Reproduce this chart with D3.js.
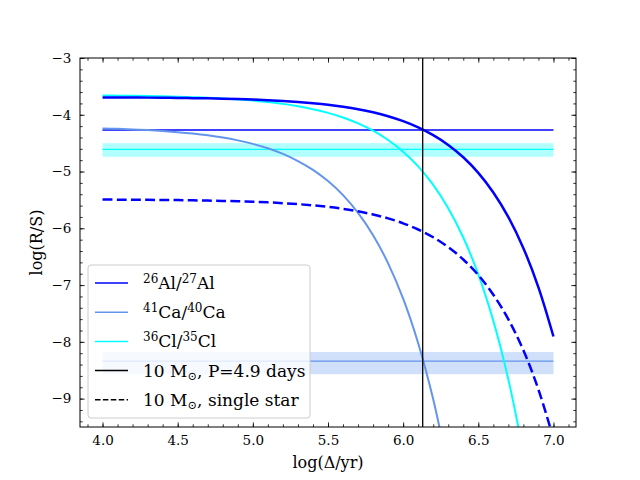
<!DOCTYPE html>
<html>
<head>
<meta charset="utf-8">
<script src="https://cdn.jsdelivr.net/npm/d3@7"></script>
<style>
  body { margin: 0; background: #fff; }
  text { font-family: "DejaVu Serif", serif; fill: #000; }
</style>
</head>
<body>
<svg id="chart" width="640" height="480"></svg>
<script>
var svg = d3.select('#chart');
const W = +svg.attr('width');
const H = +svg.attr('height');

// sample points along log(delta/yr)
const logDelta = [4.0, 4.1, 4.2, 4.3, 4.4, 4.5, 4.6, 4.7, 4.8, 4.9,
                  5.0, 5.1, 5.2, 5.3, 5.4, 5.5, 5.6, 5.7, 5.8, 5.9,
                  6.0, 6.1, 6.2, 6.3, 6.4, 6.5, 6.6, 6.7, 6.8, 6.9, 7.0];

// 26Al/27Al, binary 10 Msun
const alBinary = [-3.694, -3.695, -3.697, -3.698, -3.701, -3.703, -3.707, -3.711, -3.717, -3.724,
                  -3.732, -3.743, -3.757, -3.774, -3.796, -3.823, -3.858, -3.901, -3.956, -4.025,
                  -4.112, -4.221, -4.358, -4.531, -4.749, -5.023, -5.369, -5.803, -6.350, -7.039, -7.906];
// 26Al/27Al, single star
const alSingle = [-5.494, -5.495, -5.497, -5.498, -5.501, -5.503, -5.507, -5.511, -5.517, -5.524,
                  -5.532, -5.543, -5.557, -5.574, -5.596, -5.623, -5.658, -5.701, -5.756, -5.825,
                  -5.912, -6.021, -6.158, -6.331, -6.549, -6.823, -7.169, -7.603, -8.150, -8.839, -9.706];
// 41Ca/40Ca (runs off the bottom)
const caBinary = [-4.240, -4.248, -4.258, -4.270, -4.286, -4.306, -4.331, -4.362, -4.401, -4.451,
                  -4.513, -4.591, -4.690, -4.815, -4.971, -5.168, -5.416, -5.729, -6.122, -6.617,
                  -7.240, -8.025, -9.013, -10.256];
// 36Cl/35Cl (runs off the bottom)
const clBinary = [-3.660, -3.663, -3.666, -3.670, -3.675, -3.682, -3.690, -3.700, -3.713, -3.729,
                  -3.750, -3.776, -3.808, -3.850, -3.901, -3.966, -4.048, -4.151, -4.281, -4.444,
                  -4.650, -4.909, -5.235, -5.645, -6.162, -6.812, -7.631, -8.662, -9.960];

// early solar system values: [value, low, high]
const alMeasured = [-4.27];
const clMeasured = [-4.61, -4.74, -4.50];
const caMeasured = [-8.34, -8.57, -8.18];
const bandRange = [4.0, 7.0];

const delayMark = 6.13;

const xTicks = [4.0, 4.5, 5.0, 5.5, 6.0, 6.5, 7.0];
const yTicks = [-9, -8, -7, -6, -5, -4, -3];

const margin = {top: 58, bottom: 53, left: 80, right: 64};
const innerW = W - margin.left - margin.right;
const innerH = H - margin.top - margin.bottom;

const Xscale = d3.scaleLinear().domain([3.85, 7.15]).range([0, innerW]);
const Yscale = d3.scaleLinear().domain([-9.5, -3]).range([innerH, 0]);

const g = svg.append('g')
    .attr('transform', 'translate(' + margin.left + ',' + margin.top + ')');

g.append('clipPath').attr('id', 'clip')
    .append('rect').attr('width', innerW).attr('height', innerH);

const plot = g.append('g').attr('clip-path', 'url(#clip)');

const toPts = (ys) => ys.map((v, i) => [logDelta[i], v]);
const line = d3.line()
    .x(d => Xscale(d[0]))
    .y(d => Yscale(d[1]))
    .curve(d3.curveCatmullRom);

// shaded bands
const band = (m, color) => {
    plot.append('rect')
        .attr('x', Xscale(bandRange[0]))
        .attr('width', Xscale(bandRange[1]) - Xscale(bandRange[0]))
        .attr('y', Yscale(m[2]))
        .attr('height', Yscale(m[1]) - Yscale(m[2]))
        .attr('fill', color)
        .attr('fill-opacity', 0.3);
};
band(clMeasured, 'cyan');
band(caMeasured, 'cornflowerblue');

const hline = (v, color, w) => {
    plot.append('line')
        .attr('x1', Xscale(bandRange[0])).attr('x2', Xscale(bandRange[1]))
        .attr('y1', Yscale(v)).attr('y2', Yscale(v))
        .style('stroke', color).style('stroke-width', w);
};
hline(alMeasured[0], 'blue', 1.5);
hline(clMeasured[0], 'cyan', 1.3);
hline(caMeasured[0], 'cornflowerblue', 1.3);

// decay curves
plot.append('path').datum(toPts(caBinary)).attr('d', line)
    .attr('fill', 'none').style('stroke', 'cornflowerblue').style('stroke-width', 2);
plot.append('path').datum(toPts(clBinary)).attr('d', line)
    .attr('fill', 'none').style('stroke', 'cyan').style('stroke-width', 2);
plot.append('path').datum(toPts(alSingle)).attr('d', line)
    .attr('fill', 'none').style('stroke', 'blue').style('stroke-width', 2.5)
    .style('stroke-dasharray', '9.9,4.3');
plot.append('path').datum(toPts(alBinary)).attr('d', line)
    .attr('fill', 'none').style('stroke', 'blue').style('stroke-width', 2.5);

// delay marker
plot.append('line')
    .attr('x1', Xscale(delayMark)).attr('x2', Xscale(delayMark))
    .attr('y1', 0).attr('y2', innerH)
    .style('stroke', 'black').style('stroke-width', 1.3);

// axes, ticks pointing inwards on all sides
const xMinor = d3.range(39, 72).map(d => d / 10);
const yMinor = d3.range(-47, -14).map(d => d / 5);
const fmtY = d => d3.format('d')(d).replace('-', '\u2212');

const axis = (gen, scale, ticks, len, fmt, tr) => {
    const a = g.append('g').attr('transform', tr)
        .call(gen(scale).tickValues(ticks).tickSizeInner(-len).tickSizeOuter(0)
              .tickPadding(len + 4).tickFormat(fmt || (() => '')));
    a.select('.domain').remove();
    a.selectAll('line').style('stroke', 'black').style('stroke-width', 0.8);
    if (!fmt) a.selectAll('text').remove();
    a.selectAll('text').style('font-size', '13.5px').style('font-family', 'DejaVu Serif');
    return a;
};
axis(d3.axisBottom, Xscale, xTicks, 4.7, d3.format('.1f'), 'translate(0,' + innerH + ')');
axis(d3.axisBottom, Xscale, xMinor, 2.7, null, 'translate(0,' + innerH + ')');
axis(d3.axisTop, Xscale, xTicks, 4.7, null, 'translate(0,0)');
axis(d3.axisTop, Xscale, xMinor, 2.7, null, 'translate(0,0)');
axis(d3.axisLeft, Yscale, yTicks, 4.7, fmtY, 'translate(0,0)');
axis(d3.axisLeft, Yscale, yMinor, 2.7, null, 'translate(0,0)');
axis(d3.axisRight, Yscale, yTicks, 4.7, null, 'translate(' + innerW + ',0)');
axis(d3.axisRight, Yscale, yMinor, 2.7, null, 'translate(' + innerW + ',0)');

g.append('rect').attr('width', innerW).attr('height', innerH)
    .attr('fill', 'none').style('stroke', 'black').style('stroke-width', 1);

// axis labels
g.append('text').text('log(\u0394/yr)')
    .attr('x', innerW / 2).attr('y', innerH + 41)
    .attr('text-anchor', 'middle').style('font-size', '16px');
g.append('text').text('log(R/S)')
    .attr('transform', 'translate(' + (-38) + ',' + (innerH / 2) + ') rotate(-90)')
    .attr('text-anchor', 'middle').style('font-size', '16px');

// legend; part kind 0 = normal, 1 = superscript, 2 = lowered sun symbol
const legendItems = [
    {label: [['26', 1], ['Al/', 0], ['27', 1], ['Al', 0]], color: 'blue', dash: null},
    {label: [['41', 1], ['Ca/', 0], ['40', 1], ['Ca', 0]], color: 'cornflowerblue', dash: null},
    {label: [['36', 1], ['Cl/', 0], ['35', 1], ['Cl', 0]], color: 'cyan', dash: null},
    {label: [['10 M', 0], ['\u2299', 2], [', P=4.9 days', 0]], color: 'black', dash: null},
    {label: [['10 M', 0], ['\u2299', 2], [', single star', 0]], color: 'black', dash: '5.5,2.4'}
];
const shift = {0: 0, 1: -6.5, 2: 3};
const partSize = {0: '17px', 1: '12px', 2: '11.5px'};
const legend = g.append('g').attr('transform', 'translate(8,207)');
legend.append('rect')
    .attr('width', 222).attr('height', 153).attr('rx', 3)
    .attr('fill', 'white').attr('fill-opacity', 0.8)
    .style('stroke', '#cccccc').style('stroke-width', 1);
legendItems.forEach((d, i) => {
    const y = 18 + i * 29.2;
    legend.append('line').attr('x1', 7).attr('x2', 40).attr('y1', y).attr('y2', y)
        .style('stroke', d.color).style('stroke-width', 1.5)
        .style('stroke-dasharray', d.dash);
    const t = legend.append('text').attr('x', 55).attr('y', y + 6).style('font-size', '17px');
    var prev = 0;
    d.label.forEach(p => {
        t.append('tspan').text(p[0])
            .attr('dy', shift[p[1]] - prev)
            .style('font-size', partSize[p[1]]);
        prev = shift[p[1]];
    });
});
</script>
</body>
</html>
